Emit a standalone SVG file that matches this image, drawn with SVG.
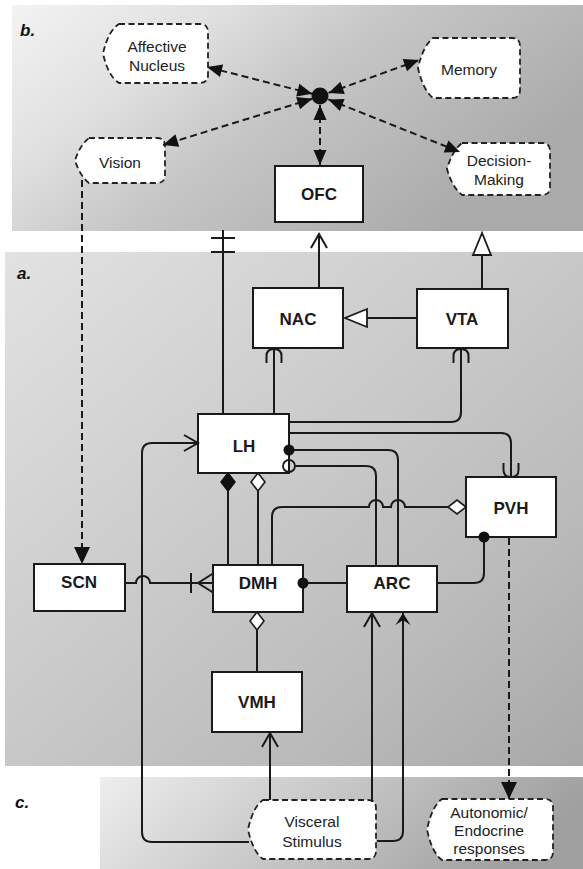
<svg xmlns="http://www.w3.org/2000/svg" width="583" height="869" viewBox="0 0 583 869">
<defs>
<linearGradient id="gb" x1="0" y1="0" x2="1" y2="0.5">
<stop offset="0" stop-color="#f3f3f3"/><stop offset="0.3" stop-color="#e0e0e0"/><stop offset="0.55" stop-color="#c6c6c6"/><stop offset="1" stop-color="#aaaaaa"/>
</linearGradient>
<linearGradient id="ga" x1="0" y1="0" x2="1" y2="1">
<stop offset="0" stop-color="#e2e2e2"/><stop offset="0.4" stop-color="#cdcdcd"/><stop offset="0.75" stop-color="#bababa"/><stop offset="1" stop-color="#a8a8a8"/>
</linearGradient>
<linearGradient id="gc" x1="0" y1="0" x2="1" y2="0.2">
<stop offset="0" stop-color="#eeeeee"/><stop offset="0.35" stop-color="#d2d2d2"/><stop offset="0.7" stop-color="#b8b8b8"/><stop offset="1" stop-color="#a0a0a0"/>
</linearGradient>
<marker id="farrow" overflow="visible" markerUnits="userSpaceOnUse" orient="auto-start-reverse" markerWidth="16" markerHeight="14">
<path d="M0 0 L-15 -6.5 L-15 6.5 Z" fill="#111"/>
</marker>
<marker id="farrowL" overflow="visible" markerUnits="userSpaceOnUse" orient="auto" markerWidth="18" markerHeight="16">
<path d="M0 0 L-17 -8 L-17 8 Z" fill="#111"/>
</marker>
<marker id="chev" overflow="visible" markerUnits="userSpaceOnUse" orient="auto" markerWidth="16" markerHeight="18">
<path d="M-14 -8 L0 0 L-14 8" fill="none" stroke="#1a1a1a" stroke-width="2"/>
</marker>
<marker id="arch" overflow="visible" markerUnits="userSpaceOnUse" orient="auto" markerWidth="16" markerHeight="18">
<path d="M-14 -7.5 L-7 -7.5 Q0 -7.5 0 0 Q0 7.5 -7 7.5 L-14 7.5" fill="none" stroke="#1a1a1a" stroke-width="2"/>
</marker>
<marker id="otri" overflow="visible" markerUnits="userSpaceOnUse" orient="auto" markerWidth="24" markerHeight="20">
<path d="M0 0 L-22 -9 L-22 9 Z" fill="#fff" stroke="#1a1a1a" stroke-width="1.8"/>
</marker>
<marker id="fdia" overflow="visible" markerUnits="userSpaceOnUse" orient="auto" markerWidth="20" markerHeight="16">
<path d="M0 0 L-9 -7 L-18 0 L-9 7 Z" fill="#111" stroke="#111" stroke-width="1.5"/>
</marker>
<marker id="odia" overflow="visible" markerUnits="userSpaceOnUse" orient="auto" markerWidth="20" markerHeight="16">
<path d="M0 0 L-9 -7 L-18 0 L-9 7 Z" fill="#fff" stroke="#1a1a1a" stroke-width="1.6"/>
</marker>
<marker id="dot" overflow="visible" markerUnits="userSpaceOnUse" orient="auto" markerWidth="12" markerHeight="12">
<circle cx="0" cy="0" r="5.5" fill="#111"/>
</marker>
<marker id="ocirc" overflow="visible" markerUnits="userSpaceOnUse" orient="auto" markerWidth="14" markerHeight="14">
<circle cx="-6" cy="0" r="6" fill="none" stroke="#1a1a1a" stroke-width="1.8"/>
</marker>
<marker id="crow" overflow="visible" markerUnits="userSpaceOnUse" orient="auto" markerWidth="24" markerHeight="22">
<path d="M-22 -10 L-22 10 M0 -9.5 L-15 0 L0 9.5" fill="none" stroke="#1a1a1a" stroke-width="2"/>
</marker>
<marker id="bars" overflow="visible" markerUnits="userSpaceOnUse" orient="auto" markerWidth="24" markerHeight="26">
<path d="M-8 -12 L-8 12 M-22 -12 L-22 12" fill="none" stroke="#1a1a1a" stroke-width="2"/>
</marker>
<marker id="stealth" overflow="visible" markerUnits="userSpaceOnUse" orient="auto" markerWidth="14" markerHeight="16">
<path d="M0 0 L-12 -7.5 L-7 0 L-12 7.5 Z" fill="#111"/>
</marker>
</defs>
<style>
.box{fill:#fff;stroke:#1a1a1a;stroke-width:2}
.cloud{fill:#fff;stroke:#222;stroke-width:1.8;stroke-dasharray:6 3.5}
.lbl{font-family:"Liberation Sans",Arial,sans-serif;font-weight:bold;font-size:17px;fill:#1a1a1a;text-anchor:middle}
.ct{font-family:"Liberation Sans",Arial,sans-serif;font-size:15.5px;fill:#222;text-anchor:middle}
.pl{font-family:"Liberation Sans",Arial,sans-serif;font-weight:bold;font-style:italic;font-size:17px;fill:#111}
.c{fill:none;stroke:#1a1a1a;stroke-width:2}
.d{fill:none;stroke:#1a1a1a;stroke-width:2;stroke-dasharray:7 4}
</style>
<rect width="583" height="869" fill="#fff"/>
<rect x="12" y="5" width="571" height="226" fill="url(#gb)"/>
<rect x="5" y="252" width="578" height="514" fill="url(#ga)"/>
<rect x="100" y="777" width="483" height="92" fill="url(#gc)"/>
<text class="pl" x="20" y="36">b.</text>
<text class="pl" x="17" y="279">a.</text>
<text class="pl" x="15" y="808">c.</text>
<g id="hub"><circle cx="320" cy="96" r="8.5" fill="#111"/></g>
<g id="affective"><path class="cloud" d="M119 24 H200 Q208 24 208 32 V75 Q208 83 200 83 H119 Q108 76 103 53.5 Q108 31 119 24 Z"/><text class="ct" x="157" y="52">Affective</text><text class="ct" x="157" y="71">Nucleus</text></g>
<g id="vision"><path class="cloud" d="M89 138 H157 Q165 138 165 146 V175 Q165 183 157 183 H89 Q80 176 75 160.5 Q80 145 89 138 Z"/><text class="ct" x="120" y="168">Vision</text></g>
<g id="memory"><path class="cloud" d="M433 38 H512 Q520 38 520 46 V90 Q520 98 512 98 H433 Q423 90 418 68 Q423 46 433 38 Z"/><text class="ct" x="469" y="75">Memory</text></g>
<g id="decision"><path class="cloud" d="M462 143 H542 Q550 143 550 151 V187 Q550 195 542 195 H462 Q452 187 447 169 Q452 151 462 143 Z"/><text class="ct" x="499" y="166">Decision-</text><text class="ct" x="499" y="185">Making</text></g>
<g id="visceral"><path class="cloud" d="M263 800 H368 Q376 800 376 808 V851 Q376 859 368 859 H263 Q253 852 248 829.5 Q253 807 263 800 Z"/><text class="ct" x="312" y="827">Visceral</text><text class="ct" x="312" y="847">Stimulus</text></g>
<g id="autonomic"><path class="cloud" d="M442 799 H545 Q553 799 553 807 V852 Q553 860 545 860 H442 Q432 853 427 829.5 Q432 806 442 799 Z"/><text class="ct" x="489" y="818" font-size="15">Autonomic/</text><text class="ct" x="489" y="836" font-size="15">Endocrine</text><text class="ct" x="489" y="854" font-size="15">responses</text></g>
<g id="ofc"><rect class="box" x="275" y="166" width="88" height="56"/><text class="lbl" x="319" y="200">OFC</text></g>
<g id="nac"><rect class="box" x="253" y="288" width="90" height="60"/><text class="lbl" x="298" y="325">NAC</text></g>
<g id="vta"><rect class="box" x="417" y="289" width="91" height="59"/><text class="lbl" x="462" y="325">VTA</text></g>
<g id="lh"><rect class="box" x="198" y="414" width="91" height="59"/><text class="lbl" x="244" y="452">LH</text></g>
<g id="pvh"><rect class="box" x="466" y="477" width="90" height="60"/><text class="lbl" x="511" y="514">PVH</text></g>
<g id="scn"><rect class="box" x="34" y="564" width="91" height="47"/><text class="lbl" x="79" y="588">SCN</text></g>
<g id="dmh"><rect class="box" x="213" y="565" width="90" height="47"/><text class="lbl" x="258" y="589">DMH</text></g>
<g id="arc"><rect class="box" x="347" y="566" width="90" height="46"/><text class="lbl" x="392" y="589">ARC</text></g>
<g id="vmh"><rect class="box" x="212" y="672" width="90" height="60"/><text class="lbl" x="257" y="708">VMH</text></g>
<g id="connectors">
<path class="d" d="M312.3 93.8 L207 67" marker-start="url(#farrow)" marker-end="url(#farrow)"/>
<path class="d" d="M312.4 98.7 L163 145" marker-start="url(#farrow)" marker-end="url(#farrow)"/>
<path class="d" d="M328.5 92.9 L419 60" marker-start="url(#farrow)" marker-end="url(#farrow)"/>
<path class="d" d="M328.3 99.4 L460 152" marker-start="url(#farrow)" marker-end="url(#farrow)"/>
<path class="d" d="M320 105 L320 165" marker-start="url(#farrow)" marker-end="url(#farrow)"/>
<path class="d" d="M82 180 V564" marker-end="url(#farrowL)"/>
<path class="d" d="M509 538 V799" marker-end="url(#farrowL)"/>
<path class="c" d="M223 413 V230" marker-end="url(#bars)"/>
<path class="c" d="M319 287 V234" marker-end="url(#chev)"/>
<path class="c" d="M482 288 V233" marker-end="url(#otri)"/>
<path class="c" d="M416 318 H345" marker-end="url(#otri)"/>
<path class="c" d="M274 413 V349" marker-end="url(#arch)"/>
<path class="c" d="M290 422 H451 Q461 422 461 412 V349" marker-end="url(#arch)"/>
<path class="c" d="M290 433 H501 Q511 433 511 443 V477" marker-end="url(#arch)"/>
<path class="c" d="M289 450 H388 Q398 450 398 460 V565" marker-start="url(#dot)"/>
<path class="c" d="M295 466 H366 Q376 466 376 476 V565" marker-start="url(#ocirc)"/>
<path class="c" d="M272 564 V517 Q272 507 282 507 H369 A7 7 0 0 1 383 507 H391 A7 7 0 0 1 405 507 H466" marker-end="url(#odia)"/>
<path class="c" d="M228 564 V473" marker-end="url(#fdia)"/>
<path class="c" d="M258 564 V473" marker-end="url(#odia)"/>
<path class="c" d="M346 583 H303" marker-end="url(#dot)"/>
<path class="c" d="M126 583 H136 A7 7 0 0 1 150 583 H213" marker-end="url(#crow)"/>
<path class="c" d="M249 842 H152 Q142 842 142 832 V453 Q142 443 152 443 H198" marker-end="url(#chev)"/>
<path class="c" d="M270 800 V733" marker-end="url(#chev)"/>
<path class="c" d="M372 802 V613" marker-end="url(#chev)"/>
<path class="c" d="M377 841 H393 Q403 841 403 831 V613" marker-end="url(#stealth)"/>
<path class="c" d="M257 673 V612" marker-end="url(#odia)"/>
<path class="c" d="M438 583 H474 Q484 583 484 573 V537" marker-end="url(#dot)"/>
</g>
</svg>
